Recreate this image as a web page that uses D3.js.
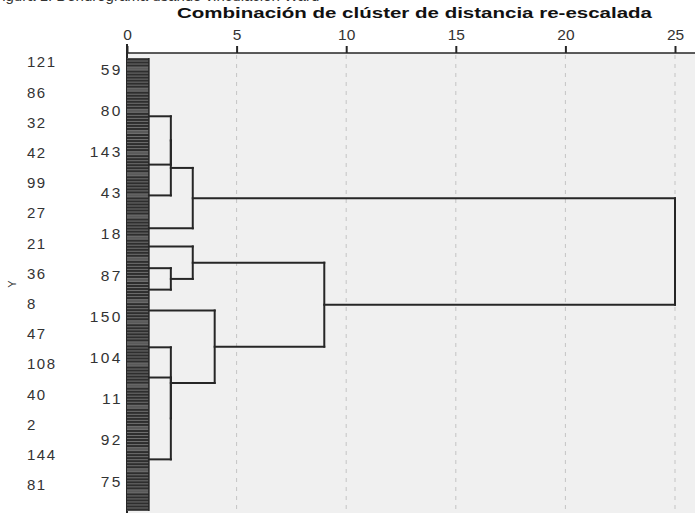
<!DOCTYPE html>
<html>
<head>
<meta charset="utf-8">
<script src="https://cdn.jsdelivr.net/npm/d3@7"></script>
<style>
  body { margin: 0; background: #fff; }
  svg { display: block; font-family: "Liberation Sans", Arial, sans-serif; }
</style>
</head>
<body>
<svg id="chart" width="695" height="513"></svg>
<script>
// rescaled distance ticks
var distTicks = [0, 5, 10, 15, 20, 25]
var nCases = 150

// case labels as they appear in the two label columns
var outerLabels = ["121", "86", "32", "42", "99", "27", "21", "36", "8", "47", "108", "40", "2", "144", "81"]
var innerLabels = ["59", "80", "143", "43", "18", "87", "150", "104", "11", "92", "75"]

// first level clusters: the row (in case units) where they leave the strip at distance 1
var leafRows = [19.3, 35.3, 45.5, 56.4, 62.4, 69.6, 76.7, 83.6, 95.8, 105.8, 132.9]
var leafDist = 1

// merges: [childA, childB, distance]; "c" = leaf cluster, "m" = earlier merge
var merges = [
  ["c0", "c1", 2],
  ["m0", "c2", 2],
  ["m1", "c3", 3],
  ["c5", "c6", 2],
  ["c4", "m3", 3],
  ["c9", "c10", 2],
  ["c8", "m5", 2],
  ["c7", "m6", 4],
  ["m4", "m7", 9],
  ["m2", "m8", 25]
]

var svg = d3.select("#chart")
var W = 695, H = 513
var x = d3.scaleLinear().domain([0, 25]).range([127, 675])
var y = d3.scaleLinear().domain([0, nCases]).range([58, 511])
var axisY = 53
var ink = "#262626"

// caption, cut by the top edge of the picture
svg.append("text")
    .attr("x", -7)
    .attr("y", 1)
    .attr("font-size", 15)
    .attr("fill", "#333")
    .text("Figura 1. Dendrograma usando vinculación Ward")

svg.append("text")
    .attr("x", 177)
    .attr("y", 18)
    .attr("font-size", 15)
    .attr("font-weight", "bold")
    .attr("fill", "#111")
    .attr("textLength", 475)
    .attr("lengthAdjust", "spacingAndGlyphs")
    .text("Combinación de clúster de distancia re-escalada")

/* plot background */
svg.append("rect")
    .attr("x", x(0))
    .attr("y", axisY)
    .attr("width", W - x(0))
    .attr("height", H - axisY)
    .attr("fill", "#f0f0f0")

/* dashed grid */
svg.append("g").selectAll("line")
    .data(distTicks.filter(function(d) { return d > 0 }))
  .enter().append("line")
    .attr("x1", function(d) { return x(d) })
    .attr("x2", function(d) { return x(d) })
    .attr("y1", axisY + 2)
    .attr("y2", H)
    .attr("stroke", "#c4c4c4")
    .attr("stroke-width", 1)
    .attr("stroke-dasharray", "4,5")

/* axis */
var axis = d3.axisTop(x).tickValues(distTicks).tickSize(7).tickPadding(6).tickSizeOuter(0)
var gAxis = svg.append("g")
    .attr("transform", "translate(0," + axisY + ")")
    .call(axis)
gAxis.select(".domain").remove()
gAxis.selectAll(".tick line").attr("stroke", ink).attr("stroke-width", 2)
gAxis.selectAll(".tick text")
    .attr("font-size", 15.5)
    .attr("fill", "#333")
    .attr("font-family", "Liberation Sans, Arial, sans-serif")

svg.append("line")
    .attr("x1", x(0)).attr("x2", W)
    .attr("y1", axisY).attr("y2", axisY)
    .attr("stroke", ink).attr("stroke-width", 1.6)
svg.append("line")
    .attr("x1", x(0)).attr("x2", x(0))
    .attr("y1", 44).attr("y2", H)
    .attr("stroke", ink).attr("stroke-width", 2)

/* strip of the 150 cases joining below distance 1 */
svg.append("rect")
    .attr("x", x(0))
    .attr("y", y(0))
    .attr("width", x(leafDist) - x(0))
    .attr("height", y(nCases) - y(0))
    .attr("fill", "#6e6e6e")

svg.append("g").selectAll("line")
    .data(d3.range(nCases))
  .enter().append("line")
    .attr("x1", x(0))
    .attr("x2", x(leafDist))
    .attr("y1", function(d) { return y(d + 0.5) })
    .attr("y2", function(d) { return y(d + 0.5) })
    .attr("stroke", function(d) { return d % 7 == 3 ? "#5a5a5a" : "#2e2e2e" })
    .attr("stroke-width", 2)

svg.append("line")
    .attr("x1", x(leafDist)).attr("x2", x(leafDist))
    .attr("y1", y(0)).attr("y2", y(nCases))
    .attr("stroke", ink).attr("stroke-width", 1.5)

/* build the tree nodes */
var nodes = {}
leafRows.forEach(function(r, i) {
  nodes["c" + i] = {row: r, dist: leafDist}
})
var segs = []
merges.forEach(function(m, i) {
  var a = nodes[m[0]], b = nodes[m[1]], d = m[2]
  segs.push({x1: a.dist, x2: d, r1: a.row, r2: a.row})
  segs.push({x1: b.dist, x2: d, r1: b.row, r2: b.row})
  segs.push({x1: d, x2: d, r1: a.row, r2: b.row})
  nodes["m" + i] = {row: (a.row + b.row) / 2, dist: d}
})

svg.append("g").selectAll("line")
    .data(segs)
  .enter().append("line")
    .attr("x1", function(d) { return x(d.x1) })
    .attr("x2", function(d) { return x(d.x2) })
    .attr("y1", function(d) { return y(d.r1) })
    .attr("y2", function(d) { return y(d.r2) })
    .attr("stroke", ink)
    .attr("stroke-width", 2)
    .attr("stroke-linecap", "square")

/* case labels */
svg.append("g").selectAll("text")
    .data(outerLabels)
  .enter().append("text")
    .attr("x", 27)
    .attr("y", function(d, i) { return y(1.3 + i * 10) })
    .attr("dy", "0.36em")
    .attr("font-size", 15)
    .attr("letter-spacing", 1.5)
    .attr("fill", "#333")
    .text(function(d) { return d })

svg.append("g").selectAll("text")
    .data(innerLabels)
  .enter().append("text")
    .attr("x", 123)
    .attr("y", function(d, i) { return y(3.65 + i * 13.64) })
    .attr("dy", "0.36em")
    .attr("text-anchor", "end")
    .attr("font-size", 15.5)
    .attr("letter-spacing", 2.5)
    .attr("fill", "#333")
    .text(function(d) { return d })

svg.append("text")
    .attr("transform", "translate(16,284) rotate(-90)")
    .attr("text-anchor", "middle")
    .attr("font-size", 11)
    .attr("fill", "#333")
    .text("Y")
</script>
</body>
</html>
